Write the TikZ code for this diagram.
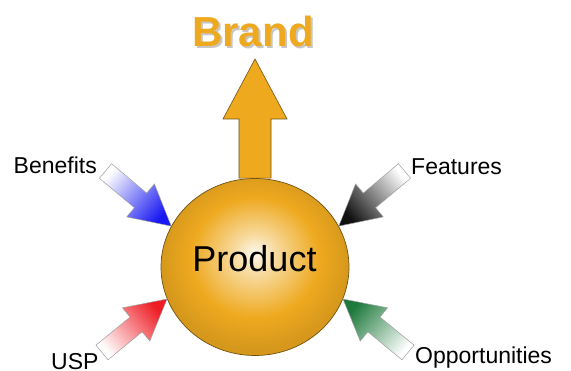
\documentclass[tikz,border=0pt]{standalone}
\usepackage{fontspec}
\setmainfont{Liberation Sans}
\usepackage{tikz}
\usetikzlibrary{calc,shapes.geometric}

\definecolor{orb}{HTML}{EEA91F}
\definecolor{orbline}{HTML}{6E5210}
\definecolor{usp}{HTML}{EE1C24}
\definecolor{ben}{HTML}{1818F2}
\definecolor{opp}{HTML}{1E7A3C}
\definecolor{fea}{HTML}{111111}

\pgfdeclareradialshading{ball}{\pgfpoint{0bp}{4bp}}{%
  color(0bp)=(white!92!orb); color(6bp)=(white!55!orb);
  color(17bp)=(orb); color(25bp)=(orb!90!black);
  color(50bp)=(orb!90!black)}

% block arrow: style, tail, tip, shaft half width, head half width, head length
\newcommand{\blockarrow}[6]{%
  \coordinate (hb) at ($(#3)!#6!(#2)$);
  \path[#1] ($(#2)!#4!90:(#3)$) -- ($(hb)!#4!90:(#3)$) -- ($(hb)!#5!90:(#3)$)
    -- (#3) -- ($(hb)!#5!-90:(#3)$) -- ($(hb)!#4!-90:(#3)$)
    -- ($(#2)!#4!-90:(#3)$) -- cycle;}

\begin{document}
\begin{tikzpicture}[x = 1pt, y = 1pt,
                    tag/.style   = {inner sep = 0pt,
                                    anchor = base west,
                                    font = \fontsize{23}{27}\selectfont},
                    core/.style  = {ellipse,
                                    shading = ball,
                                    draw = orbline,
                                    line width = 0.7pt,
                                    inner sep = 0pt,
                                    minimum width = 188pt,
                                    minimum height = 177pt},
                    lift/.style  = {fill = orb,
                                    draw = orbline,
                                    line width = 0.6pt},
                    feed/.style  = {draw = gray!75,
                                    line width = 0.5pt,
                                    top color = white,
                                    bottom color = #1},
                    brand/.style = {inner sep = 0pt,
                                    anchor = base,
                                    font = \fontsize{42}{48}\selectfont\bfseries}]
\useasboundingbox (0,0) rectangle (571,371);

\node[core] (P) at (255,104) {};
\node[inner sep = 0pt, anchor = base,
      font = \fontsize{36}{42}\selectfont] (prod) at (254.5,99) {Product};

\coordinate (Bt) at (255,312);
\blockarrow{lift}{P.north}{Bt}{16pt}{32pt}{60pt}

\node[brand, text = gray!45] (brand-shadow) at (255,322) {Brand};
\node[brand, text = orb] (brand) at (253,324) {Brand};

\node[tag] (ben) at (13.5,197) {Benefits};
\node[tag] (fea) at (411,196)  {Features};
\node[tag] (usp) at (51,1.5)   {USP};
\node[tag] (opp) at (415,7)    {Opportunities};

\coordinate (ben-tail) at (105.5,200);
\coordinate (fea-tail) at (404.5,200);
\coordinate (usp-tail) at (102,18.5);
\coordinate (opp-tail) at (408,18.5);

\blockarrow{feed = ben, shading angle = 50}{ben-tail}{P.154}{9.5pt}{21.5pt}{40pt}
\blockarrow{feed = fea, shading angle = -50}{fea-tail}{P.26}{9.5pt}{21.5pt}{40pt}
\blockarrow{feed = usp, shading angle = 130}{usp-tail}{P.200}{9.5pt}{21.5pt}{40pt}
\blockarrow{feed = opp, shading angle = -130}{opp-tail}{P.-20}{9.5pt}{21.5pt}{40pt}

\end{tikzpicture}
\end{document}
